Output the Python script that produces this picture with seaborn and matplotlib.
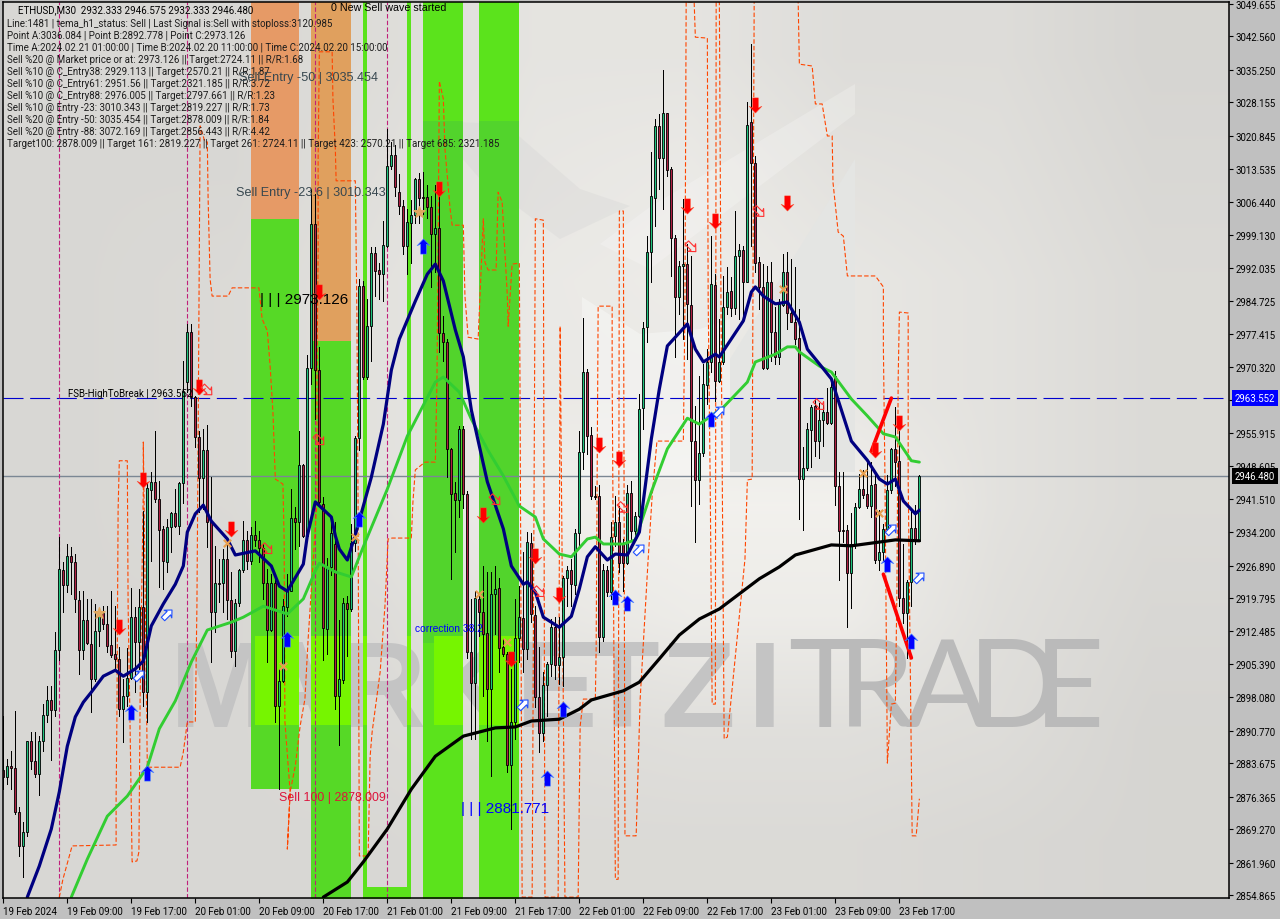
import numpy as np
import pandas as pd
import seaborn as sns
import matplotlib.pyplot as plt
from matplotlib.path import Path
from matplotlib.ticker import FixedLocator, FixedFormatter
from matplotlib.transforms import Affine2D

opens = [2882.2,2880.7,2883.1,2882.6,2873.0,2865.6,2868.6,2888.5,2884.2,2881.3,
         2888.5,2894.2,2897.5,2895.3,2908.4,2925.9,2922.6,2929.0,2927.7,2919.4,
         2908.4,2915.0,2909.7,2902.1,2912.6,2916.5,2914.1,2909.5,2907.5,2906.4,
         2895.5,2898.4,2902.3,2915.6,2910.2,2917.8,2899.2,2943.4,2945.1,2941.4,
         2934.9,2927.7,2935.3,2938.4,2935.5,2944.9,2967.0,2978.0,2963.7,2955.0,
         2946.0,2952.2,2936.6,2916.7,2923.0,2923.0,2928.3,2919.4,2908.2,2918.7,
         2925.9,2932.5,2927.9,2933.6,2932.5,2930.7,2923.0,2912.8,2923.0,2896.2,
         2901.7,2917.8,2921.3,2937.3,2936.4,2948.9,2933.4,2970.1,3001.6,2969.6,
         2940.3,2913.0,2926.6,2931.6,2898.4,2901.9,2918.7,2917.4,2931.8,2954.8,
         2988.0,2968.1,2979.2,2995.2,2991.5,2990.6,2996.8,3014.3,3016.7,3008.6,
         3005.5,2996.8,3001.8,3003.5,3011.4,3007.4,3007.4,3005.3,2999.4,3000.7,
         2977.7,2975.8,2952.4,2942.7,2941.2,2956.7,2942.5,2908.0,2901.2,2919.6,
         2916.7,2912.1,2899.9,2920.7,2922.0,2909.1,2907.5,2883.3,2892.7,2911.0,
         2915.4,2908.6,2931.8,2916.1,2898.2,2890.3,2900.8,2905.4,2913.5,2905.2,
         2906.9,2924.2,2925.9,2922.6,2934.0,2951.7,2969.2,2955.4,2942.1,2942.1,
         2911.3,2925.9,2921.1,2933.4,2936.4,2931.6,2927.5,2942.7,2934.4,2937.7,
         2961.3,2979.0,2995.4,3007.2,3023.0,3016.0,3025.8,3013.6,2998.5,2985.6,
         2992.4,2992.8,2983.9,2954.1,2945.6,2951.5,2966.4,2971.4,2988.2,2967.2,
         2971.4,2983.4,2986.9,2983.2,2994.6,2995.9,2988.9,3023.9,3014.9,2993.2,
         2987.8,2970.1,2988.9,2977.9,2972.5,2983.9,2991.0,2982.1,2980.1,2976.6,
         2945.8,2948.2,2956.5,2961.8,2954.1,2958.7,2960.5,2958.1,2968.3,2944.3,
         2934.6,2934.6,2925.2,2931.6,2939.7,2943.6,2942.5,2939.9,2944.7,2928.1,
         2929.9,2934.9,2943.4,2952.4,2949.7,2919.8,2916.5,2923.3,2935.1,2932.3]
closes = [2880.7,2883.1,2882.6,2873.0,2865.6,2868.6,2888.5,2884.2,2881.3,2888.5,
          2894.2,2897.5,2895.3,2908.4,2926.1,2922.6,2929.0,2927.7,2919.6,2908.4,
          2915.0,2910.0,2902.1,2912.6,2916.1,2914.1,2909.3,2907.3,2906.4,2895.5,
          2898.4,2902.3,2915.6,2910.2,2917.8,2899.2,2943.8,2945.1,2941.4,2934.6,
          2927.9,2935.3,2938.4,2935.5,2944.9,2965.0,2978.0,2963.7,2955.0,2946.0,
          2952.2,2936.4,2916.7,2923.0,2922.8,2928.3,2919.4,2908.2,2918.7,2925.9,
          2932.5,2927.9,2933.6,2932.5,2930.7,2923.0,2912.8,2923.0,2896.2,2901.7,
          2918.1,2921.3,2937.3,2936.4,2948.9,2933.4,2970.1,3001.6,2969.6,2940.8,
          2913.2,2926.6,2934.0,2898.4,2902.1,2918.7,2917.4,2931.8,2954.8,2988.0,
          2968.1,2979.2,2995.2,2991.3,2990.6,2997.0,3014.3,3016.7,3009.7,3005.5,
          2996.8,3002.0,3003.5,3011.4,3007.2,3007.2,3005.3,2999.4,3000.7,2977.7,
          2975.8,2952.4,2942.5,2941.2,2956.7,2942.5,2908.0,2901.2,2919.8,2916.7,
          2911.9,2899.9,2920.7,2921.8,2908.9,2907.5,2883.3,2892.7,2911.0,2915.6,
          2908.6,2932.0,2916.3,2898.2,2890.3,2900.8,2905.4,2913.5,2905.2,2906.9,
          2924.2,2925.9,2922.8,2934.0,2951.7,2969.2,2955.2,2942.1,2941.9,2911.3,
          2925.9,2921.1,2933.1,2936.4,2927.5,2927.5,2942.7,2934.4,2937.7,2961.1,
          2978.8,2995.4,3007.7,3023.0,3016.0,3025.8,3013.4,2998.5,2985.6,2992.4,
          2992.8,2984.1,2954.1,2945.6,2951.5,2966.6,2971.4,2988.4,2967.2,2971.4,
          2983.4,2986.7,2983.2,2994.6,2995.9,2988.9,3023.2,3014.9,2993.0,2987.8,
          2970.1,2988.9,2977.9,2972.5,2984.1,2991.0,2982.1,2980.1,2976.4,2945.8,
          2948.2,2956.7,2961.5,2954.1,2958.7,2960.5,2958.1,2965.9,2944.3,2934.4,
          2934.4,2925.2,2931.6,2939.7,2943.6,2942.3,2939.9,2944.5,2928.1,2929.9,
          2934.9,2943.4,2952.4,2949.5,2919.8,2916.5,2923.3,2935.1,2932.3,2946.5]
highs = [2894.0,2884.6,2886.4,2895.1,2874.1,2870.8,2888.5,2890.5,2890.5,2889.6,
         2896.6,2900.6,2900.6,2912.4,2933.1,2927.7,2931.6,2930.9,2929.4,2921.3,
         2921.3,2919.6,2919.6,2918.5,2917.4,2918.1,2918.1,2921.3,2918.1,2909.1,
         2902.1,2908.9,2922.0,2917.8,2921.8,2938.8,2944.9,2947.3,2956.3,2945.3,
         2935.5,2937.1,2938.6,2943.6,2945.1,2971.6,2979.7,2979.7,2963.9,2956.3,
         2956.7,2957.6,2946.2,2931.2,2928.3,2930.5,2932.0,2925.5,2919.6,2926.1,
         2936.6,2934.4,2935.3,2936.6,2934.4,2931.6,2926.1,2925.0,2924.4,2904.3,
         2919.6,2925.0,2943.6,2939.7,2956.3,2949.1,2972.9,3009.2,3008.1,2974.7,
         2941.9,2928.5,2936.9,2936.4,2915.0,2919.8,2920.2,2936.0,2955.2,2989.5,
         2989.1,2985.2,2996.5,2996.5,2993.0,3002.2,3022.3,3019.5,3018.8,3012.5,
         3006.8,3004.8,3006.8,3011.6,3012.7,3012.9,3010.1,3007.7,3010.1,3010.1,
         2981.4,2976.4,2952.6,2945.1,2957.4,2957.4,2943.2,2919.6,2921.3,2920.7,
         2926.8,2925.5,2925.5,2926.8,2924.2,2910.8,2908.0,2904.3,2919.6,2922.4,
         2929.9,2934.2,2934.0,2918.1,2909.1,2903.6,2905.8,2915.2,2915.6,2915.6,
         2924.6,2926.8,2928.3,2934.9,2956.3,2981.0,2969.9,2957.2,2944.3,2944.5,
         2927.2,2926.8,2936.4,2942.1,2939.9,2932.7,2944.5,2945.3,2938.6,2964.4,
         2980.1,2998.9,3017.3,3024.5,3025.6,3035.2,3025.8,3014.0,2999.2,2993.5,
         3007.0,2997.2,2994.6,2961.8,2968.3,2970.9,2974.2,2998.9,2990.6,2980.8,
         2990.2,2992.2,2990.0,3004.4,2997.2,2996.7,3028.2,3040.9,3016.4,2994.3,
         2992.8,2992.4,2993.2,2983.4,2985.2,2995.0,2995.4,2993.9,2992.2,2983.0,
         2952.8,2958.0,2962.0,2963.1,2962.4,2962.0,2965.7,2967.7,2969.4,2947.3,
         2947.3,2935.8,2938.4,2940.5,2946.9,2947.8,2950.0,2949.5,2946.7,2939.0,
         2936.0,2946.7,2952.6,2961.5,2956.3,2931.6,2923.7,2939.5,2940.1,2946.7]
lows = [2878.0,2879.1,2878.0,2872.6,2863.4,2858.8,2867.8,2882.4,2880.7,2876.7,
        2886.4,2892.7,2884.4,2894.0,2906.2,2916.7,2921.1,2920.7,2916.7,2903.2,
        2906.4,2909.7,2894.9,2901.7,2909.3,2913.0,2908.0,2906.9,2904.3,2894.0,
        2888.3,2896.2,2902.1,2899.2,2904.3,2896.2,2892.7,2927.9,2940.8,2922.2,
        2921.8,2925.5,2929.9,2935.3,2933.8,2940.5,2964.8,2961.8,2952.8,2938.6,
        2939.2,2930.9,2905.8,2912.4,2919.0,2916.7,2915.2,2906.9,2904.9,2918.1,
        2925.5,2926.1,2927.2,2931.2,2927.7,2919.6,2905.8,2912.6,2892.7,2878.0,
        2901.4,2915.9,2921.3,2930.5,2931.2,2933.1,2932.7,2966.6,2958.9,2939.9,
        2906.2,2907.5,2924.8,2895.5,2887.7,2901.2,2907.1,2917.0,2930.1,2952.2,
        2967.7,2967.7,2971.6,2985.8,2985.2,2984.7,2996.5,3013.6,3007.7,3003.7,
        2995.0,2990.6,2993.0,3001.8,3001.8,3003.7,3002.9,2987.8,2991.0,2973.6,
        2971.6,2946.2,2924.0,2929.9,2937.5,2939.5,2906.7,2888.9,2888.9,2911.5,
        2898.4,2888.5,2880.9,2911.9,2903.6,2907.1,2881.8,2869.3,2888.9,2905.8,
        2903.6,2906.4,2914.6,2896.0,2886.1,2888.5,2894.0,2902.7,2902.1,2901.0,
        2900.6,2918.1,2918.1,2920.7,2931.2,2948.0,2951.3,2941.4,2941.4,2908.0,
        2910.4,2920.2,2919.6,2931.2,2925.5,2921.3,2927.2,2932.3,2933.1,2937.5,
        2956.7,2975.8,2988.9,3001.1,3009.2,3004.8,3012.1,2990.2,2972.5,2981.9,
        2976.4,2972.0,2939.9,2932.0,2940.3,2950.8,2962.2,2969.2,2962.9,2967.0,
        2970.9,2981.9,2981.4,2981.9,2980.8,2980.1,2988.9,2996.7,2991.0,2983.0,
        2969.9,2969.9,2971.6,2970.9,2970.9,2983.7,2978.6,2980.1,2975.3,2937.1,
        2934.6,2947.8,2948.4,2950.8,2950.4,2953.0,2957.8,2957.8,2940.1,2923.7,
        2932.0,2913.4,2917.6,2930.7,2939.5,2941.7,2939.5,2937.5,2927.5,2925.9,
        2928.1,2934.6,2942.7,2944.3,2918.1,2914.3,2906.7,2918.1,2931.6,2932.3]

navy_bar = [6,9,12,14,16,18,20,22,25,28,30,33,35,37,40,43,45,46,48,50,52,56,58,63,67,69,71,75,76,78,
            82,83,84,86,88,92,95,97,99,103,106,108,110,113,115,117,119,121,125,127,130,131,133,135,139,
            142,144,146,148,151,153,156,159,162,164,166,171,173,175,178,179,185,187,188,190,193,196,199,
            201,205,207,212,216,219,221,223,225,228,229]
navy_val = [2854.4,2861.2,2869.3,2877.4,2887.4,2893.8,2897.0,2899.2,2902.7,2904.0,2902.7,2904.3,2906.0,2913.7,
            2918.5,2922.8,2926.8,2934.2,2938.2,2940.1,2936.6,2932.7,2929.2,2930.1,2926.8,2922.4,2921.3,2927.2,
            2933.4,2940.8,2937.5,2933.4,2930.5,2928.1,2933.6,2946.2,2957.8,2969.6,2976.4,2984.7,2990.6,2992.8,
            2989.1,2978.4,2972.5,2960.9,2953.0,2945.2,2934.9,2926.8,2922.8,2923.3,2921.1,2915.6,2913.4,2915.8,
            2921.8,2928.8,2931.0,2928.1,2929.4,2929.2,2934.2,2954.6,2965.5,2974.9,2979.7,2974.2,2971.4,2973.1,
            2972.5,2980.4,2986.7,2987.8,2985.8,2984.1,2984.5,2980.1,2974.2,2969.9,2967.7,2954.1,2949.9,2945.8,
            2944.7,2945.8,2941.0,2938.2,2939.0]
green_bar = [17,21,26,31,36,39,43,47,51,57,60,65,71,75,78,79,83,87,90,96,101,108,110,114,117,121,125,129,133,135,
             139,142,146,148,150,155,158,162,166,171,174,177,180,186,188,193,196,198,199,204,207,212,216,220,223,227,229]
green_val = [2854.4,2862.7,2872.1,2876.5,2882.8,2891.2,2897.3,2905.8,2912.8,2914.5,2915.6,2918.0,2916.3,2919.6,
             2925.7,2927.4,2925.5,2924.4,2931.0,2943.6,2955.2,2967.0,2968.1,2964.8,2958.9,2952.3,2946.5,2939.9,
             2937.5,2932.7,2929.4,2928.8,2932.7,2933.1,2931.6,2931.6,2932.5,2943.0,2952.4,2959.1,2957.8,2959.6,
             2961.5,2967.0,2971.4,2973.1,2974.7,2974.7,2973.6,2970.5,2969.2,2963.3,2959.6,2955.7,2955.0,2949.8,2949.5]
black_bar = [80,86,90,96,102,108,115,123,128,132,139,144,147,155,159,164,169,174,179,184,189,194,198,207,212,223,229]
black_val = [2854.4,2857.7,2862.1,2869.3,2878.0,2885.2,2889.6,2891.4,2891.6,2892.9,2893.3,2895.5,2897.5,2899.5,
             2901.4,2906.5,2911.7,2915.2,2917.4,2920.7,2924.0,2926.6,2929.2,2931.4,2931.2,2932.5,2932.3]

stop_bar = [14.0,14.9,17.2,28.2,28.2,28.4,28.7,29.0,31.0,31.2,31.7,32.2,33.4,33.9,34.2,35.0,35.0,36.0,44.2,45.0,
            46.0,48.0,48.4,48.7,49.2,50.4,51.0,51.2,51.7,52.2,56.2,57.2,63.9,64.7,66.0,66.7,67.4,68.0,69.9,70.2,
            70.4,71.7,71.2,71.0,71.7,73.0,74.2,75.4,76.2,77.2,78.4,78.4,78.7,78.7,79.0,82.2,82.4,83.0,83.2,88.0,
            88.4,88.7,89.0,91.2,91.7,92.2,94.2,95.4,96.2,97.2,102.0,102.4,103.0,105.4,108.0,108.4,108.7,109.0,110.0,110.4,
            111.7,112.2,115.0,115.4,116.2,118.7,120.0,120.4,121.2,123.2,123.7,124.7,126.0,126.2,127.2,129.0,129.2,129.7,132.2,133.0,
            135.0,135.4,138.7,139.2,140.4,143.7,144.2,145.0,148.0,148.2,148.7,152.2,152.2,153.0,153.7,154.0,155.0,155.4,158.2,159.2,
            161.2,162.2,163.4,170.0,170.4,170.7,172.7,173.0,176.0,176.2,176.7,177.2,178.0,178.2,179.0,179.4,180.2,181.0,185.4,186.0,
            187.2,187.7,187.8,198.5,198.7,199.0,202.2,203.0,204.7,206.0,207.2,207.4,208.7,210.0,211.0,218.0,220.0,220.0,220.4,220.7,
            221.0,222.0,223.0,223.4,223.7,224.0,226.2,226.2,227.0,227.2,228.2,228.7,229.0]
stop_val = [2854.4,2858.3,2865.6,2865.8,2875.9,2894.0,2939.2,2949.8,2949.8,2918.0,2891.2,2862.1,2862.3,2864.3,2897.7,2943.6,2953.9,2882.8,2882.8,2886.1,
            2892.7,2892.7,2918.0,2954.5,3023.0,3019.5,3019.5,3007.0,2989.5,2985.8,2985.8,2987.6,2987.6,2980.8,2978.2,2970.5,2960.5,2945.8,2944.7,2932.7,
            2892.7,2877.4,2868.6,2864.9,2877.4,2883.1,2891.8,2897.7,2910.8,2924.6,2940.8,2967.0,2996.1,3015.8,3039.2,3039.2,3028.9,3018.0,3011.0,3011.0,
            2981.4,2937.7,2863.4,2863.4,2885.2,2890.5,2903.6,2918.0,2932.7,2932.9,2932.9,2940.8,2947.8,2949.5,2949.5,2967.0,2996.1,3032.8,3028.9,3018.0,
            3004.8,3001.3,3001.3,2985.8,2976.8,2976.4,3002.7,2993.2,2991.5,2991.5,3008.5,3006.4,2985.8,2979.2,2992.8,2993.0,2959.6,2854.4,2854.4,3002.7,
            3002.4,2854.4,2854.4,2979.2,2854.4,2854.4,2891.8,2897.7,2897.7,2908.7,2983.6,2983.6,2968.3,2858.3,2858.3,3004.4,3004.4,2867.8,2867.8,2897.7,
            2928.3,2942.1,2954.1,2954.1,2983.6,3050.1,3050.1,3042.4,3042.2,2985.2,2945.8,2896.6,2896.6,3050.1,3050.1,2985.2,2889.0,2889.4,2928.3,2945.6,
            2945.8,3050.1,3060.0,3060.0,3050.1,3036.5,3036.1,3027.8,3027.8,3020.8,3020.8,3010.7,2999.8,2998.9,2990.2,2990.2,2987.8,2974.9,2945.8,2915.2,
            2883.7,2896.6,2896.8,2922.4,2967.7,2982.3,2982.1,2945.8,2884.8,2867.8,2867.8,2872.8,2875.9]

sell_bar = [29,35,49,57,79,109,120,127,133,139,149,154,171,178,188,196,218,224]
sell_val = [2913.4,2945.6,2965.9,2934.9,2986.7,3009.2,2937.9,2906.5,2929.0,2920.5,2953.2,2950.2,3005.5,3002.2,3027.6,3006.2,2952.1,2958.0]
buy_bar = [32,36,71,89,105,136,140,153,156,177,221,227]
buy_val = [2894.9,2881.5,2910.8,2937.1,2996.8,2880.4,2895.5,2920.0,2918.7,2958.9,2927.2,2910.4]
hollow_buy_bar = [34,41,130,159,179,222,229]
hollow_buy_val = [2902.9,2916.3,2896.6,2930.5,2960.7,2934.9,2924.4]
hollow_sell_bar = [51,66,79,123,134,155,172,189,204]
hollow_sell_val = [2965.2,2930.5,2954.3,2941.2,2921.1,2939.5,2996.5,3004.2,2962.0]
cross_bar = [56,70,88,119,126,195,215,219]
cross_val = [2931.8,2904.9,2933.1,2920.7,2910.2,2987.4,2947.1,2938.4]
star_bar = [24,104]
star_val = [2916.5,3004.2]

wave_up_bar, wave_up_val = [217,222], [2951.9,2963.5]
wave_dn_bar, wave_dn_val = [220,227], [2925.0,2906.7]

sep_bars = [14,46,78,96]
high_break = 2963.552
last_price = 2946.480

y_ticks = [3049.655,3042.560,3035.250,3028.155,3020.845,3013.535,3006.440,2999.130,2992.035,2984.725,
           2977.415,2970.320,2963.010,2955.915,2948.605,2941.510,2934.200,2926.890,2919.795,2912.485,
           2905.390,2898.080,2890.770,2883.675,2876.365,2869.270,2861.960,2854.865]
x_ticks = [0,16,32,48,64,80,96,112,128,144,160,176,192,208,224]
x_labels = ['19 Feb 2024','19 Feb 09:00','19 Feb 17:00','20 Feb 01:00','20 Feb 09:00','20 Feb 17:00','21 Feb 01:00',
            '21 Feb 09:00','21 Feb 17:00','22 Feb 01:00','22 Feb 09:00','22 Feb 17:00','23 Feb 01:00','23 Feb 09:00','23 Feb 17:00']

info_lines = ['Line:1481 | tema_h1_status: Sell | Last Signal is:Sell with stoploss:3120.985',
              'Point A:3036.084 | Point B:2892.778 | Point C:2973.126',
              'Time A:2024.02.21 01:00:00 | Time B:2024.02.20 11:00:00 | Time C:2024.02.20 15:00:00',
              'Sell %20 @ Market price or at: 2973.126 || Target:2724.11 || R/R:1.68',
              'Sell %10 @ C_Entry38: 2929.113 || Target:2570.21 || R/R:1.87',
              'Sell %10 @ C_Entry61: 2951.56 || Target:2321.185 || R/R:3.72',
              'Sell %10 @ C_Entry88: 2976.005 || Target:2797.661 || R/R:1.23',
              'Sell %10 @ Entry -23: 3010.343 || Target:2819.227 || R/R:1.73',
              'Sell %20 @ Entry -50: 3035.454 || Target:2878.009 || R/R:1.84',
              'Sell %20 @ Entry -88: 3072.169 || Target:2856.443 || R/R:4.42',
              'Target100: 2878.009 || Target 161: 2819.227 || Target 261: 2724.11 || Target 423: 2570.21 || Target 685: 2321.185']

df = pd.DataFrame({'bar': range(len(opens)), 'open': opens, 'close': closes, 'high': highs, 'low': lows})
df['up'] = df['close'] >= df['open']
df['top'] = df[['open', 'close']].max(axis=1)
df['bot'] = df[['open', 'close']].min(axis=1)

sns.set_style('white')
plt.rcParams['font.family'] = ['Roboto', 'DejaVu Sans']

fig = plt.figure(figsize=(12.8, 9.2), dpi=100, facecolor='#c0c0c0')
ax = fig.add_axes([3/1280, 1-899/920, 1226/1280, 896.5/920])
ax.set_facecolor('#d8d7d4')
px = Affine2D().scale(1, -1).translate(0, 920)


def label(x, y, s, **kw):
    fig.text(x/1280, 1-y/920, s, va='center', ha=kw.pop('ha', 'left'), zorder=20, **kw)


def zone(x0, x1, y0, y1, color, z=1.0):
    # zones are given in bar index / price
    ax.fill_between([x0, x1], y0, y1, color=color, lw=0, zorder=z)


# background gradient and faint logo
shade = np.array([[.85,.85,.87,.90,.90,.87,.87,.84],
                  [.85,.85,.88,.91,.92,.89,.88,.85],
                  [.85,.86,.89,.92,.93,.91,.89,.86],
                  [.85,.86,.89,.92,.92,.91,.89,.86],
                  [.85,.86,.89,.94,.95,.95,.89,.86],
                  [.85,.85,.87,.91,.93,.93,.88,.85],
                  [.85,.85,.86,.87,.88,.88,.87,.84],
                  [.85,.85,.85,.86,.86,.86,.85,.84]])
ax.imshow(np.dstack([shade, shade*.995, shade*.98]), extent=(0, 1, 0, 1), transform=ax.transAxes,
          aspect='auto', interpolation='bilinear', zorder=0)
ax.fill([730,855,855,730], [360,160,473,473], color='#e4e5e3', lw=0, zorder=.2, transform=px)
ax.fill([582,640,700,730,730,582], [298,335,330,320,480,480], color='white', alpha=.35, lw=0, zorder=.2, transform=px)
ax.fill([650,855,855,650,600], [208,85,115,270,245], color='white', alpha=.22, lw=0, zorder=.2, transform=px)
ax.fill([430,505,580,630,560,480], [122,125,190,207,240,180], color='#d2d2d2', alpha=.3, lw=0, zorder=.2, transform=px)

for ch, x0 in zip('MARKETZI', [170,248,338,424,516,585,660,748]):
    ax.text(x0, 727, ch, fontsize=88, family='Liberation Sans', weight='bold', color='#c4c4c4', va='baseline', zorder=.5, transform=px)
for ch, x0 in zip('TRADE', [788,838,906,968,1034]):
    ax.text(x0, 727, ch, fontsize=88, family='Lato', weight='normal', color='#bababa', va='baseline', zorder=.5, transform=px)

# coloured zones, bar index / price
top = 3051.0
base = 2854.0
green = '#5be31c'
dark = '#52d42c'
lime = '#76f500'
zone(61.9, 73.9, 2878.0, 3002.6, '#56d926')
zone(61.9, 73.9, 3002.6, top, '#e69a66')
zone(76.9, 86.9, base, 2975.9, '#56d926')
zone(76.9, 86.9, 2975.9, top, '#e0a05e')
zone(89.9, 90.9, base, top, green)
zone(100.9, 101.9, base, top, green)
zone(89.9, 101.9, base, 2856.6, green)
zone(104.9, 114.9, base, top, green)
zone(118.9, 128.9, base, top, green)
zone(104.9, 114.9, 2910.0, 3024.0, dark, 1.02)
zone(118.9, 128.9, 2910.0, 3024.0, dark, 1.02)
for a, b in [(63.0, 73.9), (76.9, 86.9), (89.9, 90.9), (100.9, 101.9), (107.7, 114.9), (118.9, 128.9)]:
    zone(a, b, 2892.0, 2911.4, lime, 1.05)

ax.axhline(last_price, color='#7b8794', lw=1.0, zorder=2)
ax.axhline(high_break, color='#0000cd', lw=.8, ls=(0, (18, 6)), zorder=2)
for b in sep_bars:
    ax.axvline(b, color='#c0207a', lw=.8, ls=(0, (4, 2)), zorder=2)

sns.lineplot(x=stop_bar, y=stop_val, estimator=None, sort=False, color='#ff4500', lw=.8,
             linestyle=(0, (4, 2)), ax=ax, zorder=2.5)

# candles
body_colors = np.where(df['up'], '#1fc47e', '#b01f42')
ax.vlines(df['bar'], df['low'], df['high'], color='black', lw=.72, zorder=3, antialiased=False)
ax.bar(df['bar'], df['top']-df['bot'], bottom=df['bot'], width=.56, color=body_colors,
       edgecolor='black', linewidth=.62, zorder=3.1)

sns.lineplot(x=green_bar, y=green_val, estimator=None, sort=False, color='#32cd32', lw=2.1, ax=ax, zorder=4)
sns.lineplot(x=navy_bar, y=navy_val, estimator=None, sort=False, color='#000080', lw=2.3, ax=ax, zorder=4.1)
sns.lineplot(x=black_bar, y=black_val, estimator=None, sort=False, color='black', lw=2.3, ax=ax, zorder=4.1)
sns.lineplot(x=wave_up_bar, y=wave_up_val, estimator=None, sort=False, color='#ff0000', lw=2.6, ax=ax, zorder=4.5)
sns.lineplot(x=wave_dn_bar, y=wave_dn_val, estimator=None, sort=False, color='#ff0000', lw=2.6, ax=ax, zorder=4.5)

# signal markers
arrow_up = Path([(0,1),(.85,.1),(.38,.3),(.38,-1),(-.38,-1),(-.38,.3),(-.85,.1),(0,1)], closed=True)
arrow_dn = arrow_up.transformed(Affine2D().scale(1, -1))
hollow_ne = arrow_up.transformed(Affine2D().rotate_deg(-45))
hollow_se = arrow_up.transformed(Affine2D().rotate_deg(-135))
sns.scatterplot(x=sell_bar, y=sell_val, marker=arrow_dn, s=120, color='#ff0000', edgecolor='#ff5030', linewidth=.3, ax=ax, zorder=5)
sns.scatterplot(x=buy_bar, y=buy_val, marker=arrow_up, s=120, color='#0000ff', edgecolor='#4f8cff', linewidth=.4, ax=ax, zorder=5)
ax.scatter(hollow_buy_bar, hollow_buy_val, marker=hollow_ne, s=80, facecolors='white', edgecolors='#1f4fff', linewidths=.8, zorder=5)
ax.scatter(hollow_sell_bar, hollow_sell_val, marker=hollow_se, s=80, facecolors='none', edgecolors='#ff3030', linewidths=.8, zorder=5)
ax.scatter(cross_bar, cross_val, marker='x', s=28, color='#e8a050', linewidths=1.6, zorder=5)
ax.scatter(star_bar, star_val, marker='*', s=70, color='#e0a860', zorder=5)

ax.set_xlim(-.075, 306.4)
ax.set_ylim(2854.21, 3050.2)
ax.set_xlabel('')
ax.set_ylabel('')
ax.xaxis.set_major_locator(FixedLocator(x_ticks))
ax.xaxis.set_major_formatter(FixedFormatter(x_labels))
ax.yaxis.tick_right()
ax.yaxis.set_major_locator(FixedLocator(y_ticks))
ax.yaxis.set_major_formatter(FixedFormatter([f'{v:.3f}' for v in y_ticks]))
ax.tick_params(axis='x', direction='out', length=3.5, width=.8, color='black', labelsize=7, pad=2, bottom=True, labelcolor='black')
ax.tick_params(axis='y', direction='out', length=3, width=.8, color='black', labelsize=6.9, pad=2, right=True, labelcolor='black')
for t in ax.get_xticklabels():
    t.set_ha('left')
for s in ax.spines.values():
    s.set_color('black')
    s.set_linewidth(1.1)
    s.set_zorder(10)

# chart text
label(18, 10, 'ETHUSD,M30  2932.333 2946.575 2932.333 2946.480', fontsize=7, color='black')
for i, line in enumerate(info_lines):
    label(7, 24+12*i, line, fontsize=7, color='#1c1c1c')
thin = dict(family='Liberation Sans')
label(331, 8, '0 New Sell wave started', fontsize=7.7, color='black', **thin)
label(239, 78, 'Sell Entry -50 | 3035.454', fontsize=9.1, color='#37474f', **thin)
label(236, 193, 'Sell Entry -23.6 | 3010.343', fontsize=9.1, color='#37474f', **thin)
label(260, 300, '| | | 2973.126', fontsize=11, color='black', **thin)
label(68, 394, 'FSB-HighToBreak | 2963.552', fontsize=7, color='black')
label(415, 629, 'correction 38.2', fontsize=7.4, color='#0000ff', **thin)
label(279, 798, 'Sell 100 | 2878.009', fontsize=8.9, color='#dc143c', **thin)
label(461, 809, '| | | 2881.771', fontsize=11, color='#0000ff', **thin)

# price boxes on the right axis
ax.annotate(f'{high_break:.3f}', xy=(1, high_break), xycoords=('axes fraction', 'data'), xytext=(4, 0),
            textcoords='offset points', va='center', fontsize=6.9, color='white', annotation_clip=False, zorder=20,
            bbox=dict(boxstyle='square,pad=0.3', fc='#0000ff', ec='none'))
ax.annotate(f'{last_price:.3f}', xy=(1, last_price), xycoords=('axes fraction', 'data'), xytext=(4, 0),
            textcoords='offset points', va='center', fontsize=6.9, color='white', annotation_clip=False, zorder=20,
            bbox=dict(boxstyle='square,pad=0.3', fc='black', ec='none'))

fig.savefig('out.png', dpi=100, facecolor=fig.get_facecolor())
